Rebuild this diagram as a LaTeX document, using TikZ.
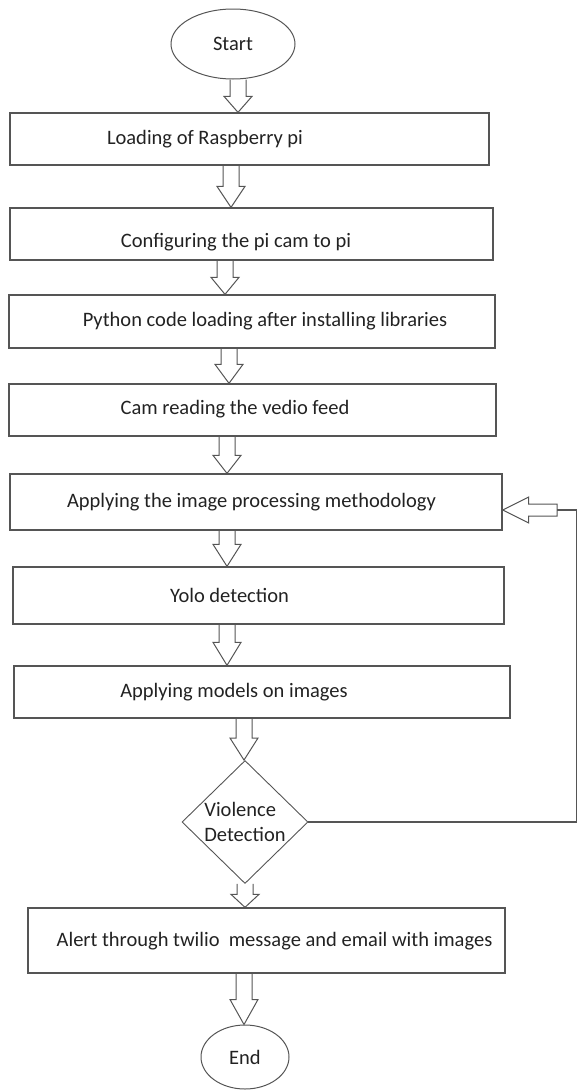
\documentclass[tikz,border=0pt]{standalone}
\usepackage{fontspec}
\setmainfont{Carlito}
\usetikzlibrary{shapes.geometric,calc}

\definecolor{linegray}{HTML}{555555}
\definecolor{textgray}{HTML}{222222}

\tikzset{
  box/.style={draw=linegray, line width=1.3pt, rectangle, inner sep=0pt},
  startend/.style={draw=linegray, line width=1pt, ellipse, inner sep=0pt},
  decision/.style={draw=linegray, line width=0.9pt, diamond, inner sep=0pt, align=left,
    minimum width=126pt, minimum height=123pt},
  hollow/.style={draw=linegray, line width=1pt, line join=miter},
  flowline/.style={draw=linegray, line width=1.1pt},
}

% hollow block arrow going down: x, from node, to node, head length
\newcommand{\blockdown}[4]{%
  \draw[hollow] let \p1=(#2.south), \p2=(#3.north) in
    ({#1pt-8pt},\y1) -- ({#1pt-8pt},{\y2+#4pt}) -- ({#1pt-14pt},{\y2+#4pt})
    -- (#1pt,\y2) -- ({#1pt+14pt},{\y2+#4pt}) -- ({#1pt+8pt},{\y2+#4pt})
    -- ({#1pt+8pt},\y1);
}

\begin{document}
\begin{tikzpicture}[x=1pt, y=-1pt, font=\fontsize{20.5pt}{25pt}\selectfont, text=textgray]
\useasboundingbox (0,0) rectangle (578,1090);

% Terminals
\node[startend, minimum width=124pt, minimum height=70pt] (start) at (233,44) {Start};
\node[startend, minimum width=88pt, minimum height=64pt] (stop) at (245,1057) {End};

% Process boxes
\node[box, minimum width=479pt, minimum height=52pt,
  label={[xshift=-44.5pt]center:Loading of Raspberry pi}] (b1) at (249.5,139) {};
\node[box, minimum width=483pt, minimum height=52pt,
  label={[xshift=-15.5pt, yshift=-8pt]center:Configuring the pi cam to pi}] (b2) at (251.5,234) {};
\node[box, minimum width=486pt, minimum height=53pt,
  label={[xshift=13pt]center:Python code loading after installing libraries}] (b3) at (252,321.5) {};
\node[box, minimum width=487pt, minimum height=52pt,
  label={[xshift=-17.5pt, yshift=1pt]center:Cam reading the vedio feed}] (b4) at (252.5,410) {};
\node[box, minimum width=492pt, minimum height=56pt,
  label={[xshift=-4.5pt]center:Applying the image processing methodology}] (b5) at (256,502) {};
\node[box, minimum width=491pt, minimum height=57pt,
  label={[xshift=-29pt]center:Yolo detection}] (b6) at (258.5,595.5) {};
\node[box, minimum width=496pt, minimum height=52pt,
  label={[xshift=-28pt]center:Applying models on images}] (b7) at (262,692) {};

% Decision
\node[decision] (dia) at (245,822) {Violence\\Detection};

% Alert
\node[box, minimum width=477pt, minimum height=65pt,
  label={[xshift=8pt, yshift=-1pt]center:Alert through twilio\ \ message and email with images}] (b8) at (266.5,940.5) {};

% Down arrows
\foreach \ax/\na/\nb/\hl in {238/start/b1/16, 231/b1/b2/21, 225/b2/b3/17, 229/b3/b4/19,
    227/b4/b5/18, 227/b5/b6/22, 227/b6/b7/23, 244/b7/dia/22, 245/dia/b8/13, 244/b8/stop/25} {
  \blockdown{\ax}{\na}{\nb}{\hl}
}

% Loop back from decision
\coordinate (fbk) at (557,510);
\draw[flowline] (dia.east) -- ++(268,0) |- (fbk);
\draw[hollow] let \p1=(fbk), \p2=(b5.east) in
  (\x1,{\y1+6pt}) -- ({\x2+26pt},{\y1+6pt}) -- ({\x2+26pt},{\y1+13pt}) -- (\x2,\y1)
  -- ({\x2+26pt},{\y1-13pt}) -- ({\x2+26pt},{\y1-6pt}) -- (\x1,{\y1-6pt}) -- cycle;

\end{tikzpicture}
\end{document}
